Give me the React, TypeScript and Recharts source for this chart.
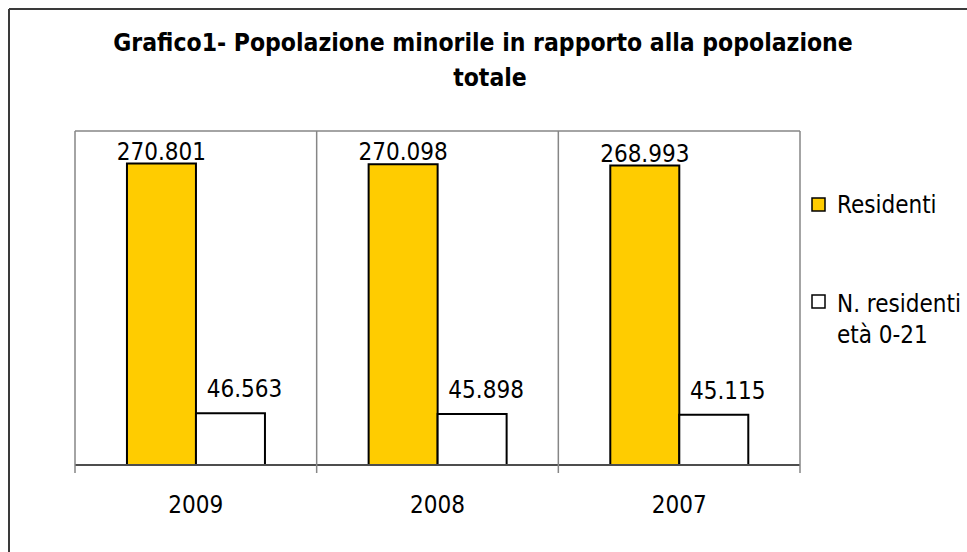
import React from 'react';
import { BarChart, Bar, XAxis, YAxis, CartesianGrid, LabelList } from 'recharts';

const years = ['2009', '2008', '2007'];
const residenti = [270801, 270098, 268993];
const minori = [46563, 45898, 45115];
const seriesNames = ['Residenti', 'N. residenti età 0-21'];
const legendLines = [['Residenti'], ['N. residenti', 'età 0-21']];
const titleLines = ['Grafico1- Popolazione minorile in rapporto alla popolazione', 'totale'];
const yDomainMax = 300000;

const data = years.map((y, i) => ({ year: y, residenti: residenti[i], minori: minori[i] }));

const W = 967;
const H = 552;
const PLOT_TOP = 131;
const FONT = '"DejaVu Sans Condensed", "DejaVu Sans", sans-serif';
const YELLOW = '#FFCC00';
const GRID = '#868686';

const fmt = (v: number) => String(v).replace(/\B(?=(\d{3})+(?!\d))/g, '.');

const CatTick = (props: any) => {
  const { x, y, payload, index, visibleTicksCount, width } = props;
  const off = payload && typeof payload.offset === 'number' && payload.offset > 0
    ? payload.offset
    : width / visibleTicksCount / 2;
  const axisY = y - 7;
  const last = index === visibleTicksCount - 1;
  return (
    <g>
      <line x1={x - off} x2={x - off} y1={PLOT_TOP} y2={axisY + 8} stroke={GRID} strokeWidth={1.5} />
      {last && <line x1={x + off} x2={x + off} y1={PLOT_TOP} y2={axisY + 8} stroke={GRID} strokeWidth={1.5} />}
      <text x={x} y={axisY + 48} textAnchor="middle" fontFamily={FONT} fontSize={24} fill="#000">
        {payload.value}
      </text>
    </g>
  );
};

const makeLabel = (dx: number, dy: number) => (props: any) => {
  const { x, y, width, value } = props;
  return (
    <text x={x + width / 2 + dx} y={y - dy} textAnchor="middle" fontFamily={FONT} fontSize={24} fill="#000">
      {fmt(value)}
    </text>
  );
};

export default function App() {
  return (
    <div style={{ position: 'absolute', left: 0, top: 0, width: W, height: H, overflow: 'hidden', background: '#fff' }}>
      <BarChart
        width={W}
        height={H}
        data={data}
        margin={{ top: PLOT_TOP, right: 167, bottom: 27, left: 75 }}
        barCategoryGap="21.5%"
        barGap={0}
        style={{ outline: 'none' }}
      >
        <YAxis domain={[0, yDomainMax]} ticks={[0, yDomainMax]} hide />
        <CartesianGrid vertical={false} stroke={GRID} strokeWidth={1.5} />
        <XAxis
          dataKey="year"
          height={60}
          tickSize={7}
          tickMargin={0}
          tickLine={false}
          axisLine={{ stroke: '#4d4d4d', strokeWidth: 2 }}
          tick={<CatTick />}
          interval={0}
        />
        <Bar dataKey="residenti" name={seriesNames[0]} fill={YELLOW} stroke="#000" strokeWidth={2} isAnimationActive={false}>
          <LabelList dataKey="residenti" content={makeLabel(0, 4)} />
        </Bar>
        <Bar dataKey="minori" name={seriesNames[1]} fill="#fff" stroke="#000" strokeWidth={2} isAnimationActive={false}>
          <LabelList dataKey="minori" content={makeLabel(14, 16)} />
        </Bar>
      </BarChart>
      <svg width={W} height={H} style={{ position: 'absolute', left: 0, top: 0, pointerEvents: 'none' }}>
        <line x1={9} y1={9} x2={W} y2={9} stroke="#3a3a3a" strokeWidth={2} />
        <line x1={9} y1={9} x2={9} y2={H} stroke="#3a3a3a" strokeWidth={2} />
        <text x={483} y={51} textAnchor="middle" fontFamily={FONT} fontWeight="bold" fontSize={24.5} fill="#000">
          {titleLines[0]}
        </text>
        <text x={490} y={86} textAnchor="middle" fontFamily={FONT} fontWeight="bold" fontSize={24.5} fill="#000">
          {titleLines[1]}
        </text>
        <rect x={812} y={198} width={13} height={13} fill={YELLOW} stroke="#000" strokeWidth={1.5} />
        <text x={837} y={213} fontFamily={FONT} fontSize={24} fill="#000">{legendLines[0][0]}</text>
        <rect x={812} y={295} width={13} height={13} fill="#fff" stroke="#000" strokeWidth={1.5} />
        <text x={837} y={312} fontFamily={FONT} fontSize={24} fill="#000">{legendLines[1][0]}</text>
        <text x={837} y={343} fontFamily={FONT} fontSize={24} fill="#000">{legendLines[1][1]}</text>
      </svg>
    </div>
  );
}
